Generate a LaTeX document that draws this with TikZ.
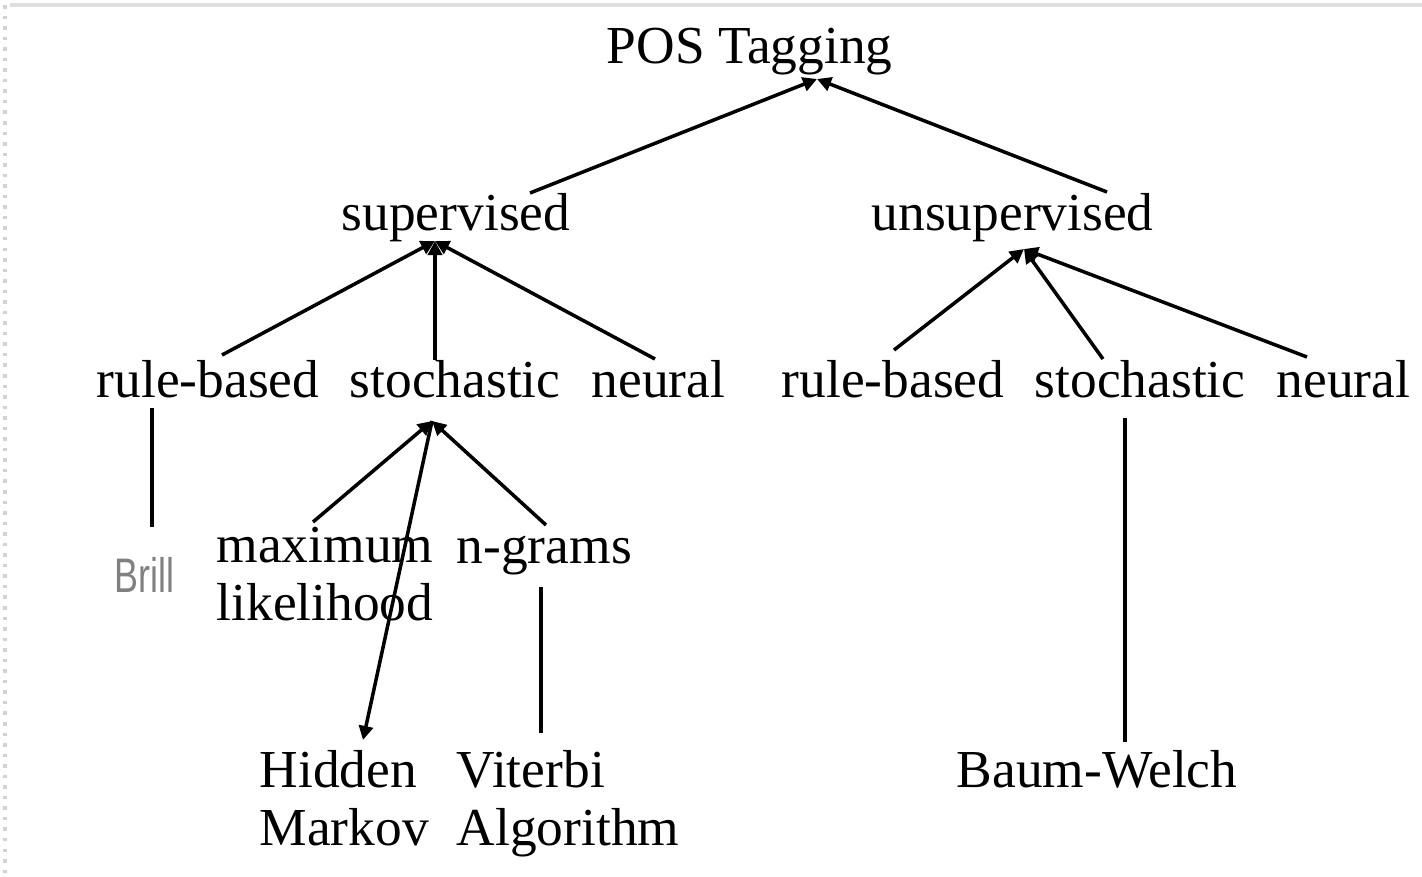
\documentclass[tikz,border=0pt]{standalone}
\usepackage{fontspec}
\setmainfont{Liberation Serif}
\newfontfamily\brillfont{Liberation Sans}
\usetikzlibrary{arrows.meta}

\begin{document}
\begin{tikzpicture}[line width=1pt, every node/.style={inner sep=0pt, font=\fontsize{15.2}{16.3}\selectfont}]
			\tikzstyle{myedgestyle} = [-{Triangle[length=4pt,width=4pt]}]
			\tikzstyle{mylabel} = [anchor=base west]
			\useasboundingbox (0,0) rectangle (14.22,-8.77);
			\draw [gray!25, line width=1pt] (0.1,-0.05) -- (14.22,-0.05);
			\draw [gray!35, line width=1pt, dash pattern=on 1pt off 2pt] (0.05,-0.05) -- (0.05,-8.77);
			
			\node [mylabel] (A1) at (6.05,-0.63) {POS Tagging};
			\coordinate (A2) at (8.17,-0.79);
			
			\node [mylabel] (B1) at (3.40,-2.30) {supervised};
			\coordinate (B2) at (5.30,-1.93);
			\coordinate (B3) at (4.35,-2.41);
			\node [mylabel] (C1) at (8.70,-2.30) {unsupervised};
			\coordinate (C2) at (11.07,-1.92);
			\coordinate (C3) at (10.24,-2.49);
			
			\node [mylabel] (D1) at (0.95,-3.97) {rule-based};
			\coordinate (D2) at (2.22,-3.55);
			\coordinate (D3) at (1.52,-4.08);
			\node [mylabel] (E1) at (3.48,-3.97) {stochastic};
			\coordinate (E2) at (4.35,-3.60);
			\coordinate (E3) at (4.32,-4.21);
			\node [mylabel] (F1) at (5.90,-3.97) {neural};
			\coordinate (F2) at (6.55,-3.59);
			
			\node [mylabel] (G1) at (7.80,-3.97) {rule-based};
			\coordinate (G2) at (8.94,-3.50);
			\node [mylabel] (H1) at (10.33,-3.97) {stochastic};
			\coordinate (H2) at (11.03,-3.59);
			\coordinate (H3) at (11.25,-4.18);
			\node [mylabel] (I1) at (12.75,-3.97) {neural};
			\coordinate (I2) at (13.07,-3.57);
			
			\node [mylabel, text=gray] (J1) at (1.13,-5.92) {\brillfont\fontsize{12}{12}\selectfont\scalebox{0.85}[1.15]{Brill}};
			\coordinate (J2) at (1.52,-5.27);
			\node [anchor=base, align=center] (K1) at (3.25,-6.20) {maximum\\likelihood};
			\coordinate (K2) at (3.13,-5.22);
			\node [mylabel] (L1) at (4.55,-5.63) {n-grams};
			\coordinate (L2) at (5.46,-5.25);
			\coordinate (L3) at (5.41,-5.87);
			
			\node [mylabel, align=left] (M1) at (2.58,-8.45) {Hidden\\Markov};
			\coordinate (M2) at (3.63,-7.40);
			\node [mylabel, align=left] (N1) at (4.55,-8.45) {Viterbi\\Algorithm};
			\coordinate (N2) at (5.41,-7.33);
			\node [mylabel] (O1) at (9.55,-7.87) {Baum-Welch};
			\coordinate (O2) at (11.25,-7.42);
			
			\draw [myedgestyle] (B2) -- (A2);
			\draw [myedgestyle] (C2) -- (A2);
			\draw [myedgestyle] (D2) -- (B3);
			\draw [myedgestyle] (E2) -- (B3);
			\draw [myedgestyle] (F2) -- (B3);
			\draw [myedgestyle] (G2) -- (C3);
			\draw [myedgestyle] (H2) -- (C3);
			\draw [myedgestyle] (I2) -- (C3);
			\draw [myedgestyle] (K2) -- (E3);
			\draw [myedgestyle] (L2) -- (E3);
			\draw [myedgestyle] (E3) -- (M2);
			\draw (D3) -- (J2);
			\draw (L3) -- (N2);
			\draw (H3) -- (O2);
			
			\end{tikzpicture}
\end{document}
